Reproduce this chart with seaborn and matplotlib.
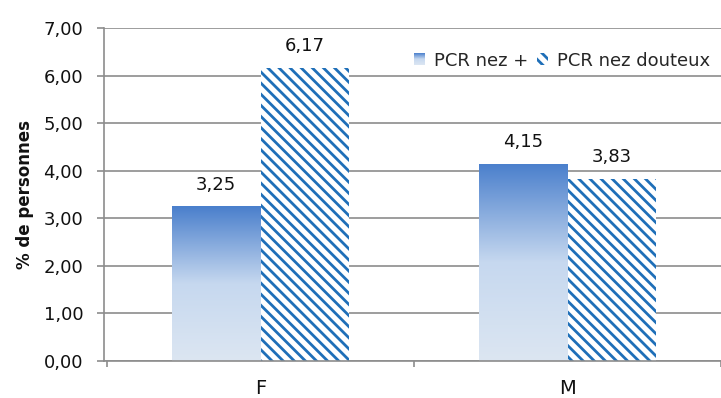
import numpy as np
import pandas as pd
import matplotlib
matplotlib.use("Agg")
import matplotlib.pyplot as plt
from matplotlib.colors import LinearSegmentedColormap
from matplotlib.patches import Rectangle
from matplotlib.legend_handler import HandlerBase
import seaborn as sns

# Data
sexes = ["F", "M"]
series = ["PCR nez +", "PCR nez douteux"]
pcr_positive = [3.25, 4.15]
pcr_doubtful = [6.17, 3.83]
y_ticks = [0, 1, 2, 3, 4, 5, 6, 7]

df = pd.DataFrame({
    "sexe": sexes * 2,
    "serie": [series[0]] * len(sexes) + [series[1]] * len(sexes),
    "valeur": pcr_positive + pcr_doubtful,
})

sns.set_theme(style="white")
plt.rcParams["font.family"] = ["DejaVu Sans"]
plt.rcParams["hatch.linewidth"] = 2.0
plt.rcParams["hatch.color"] = "#1f6fb8"

STRIPE = "#1f6fb8"
HATCH = "\\\\\\"
GRID = "#8c8c8c"
TXT = "#111111"
grad_cmap = LinearSegmentedColormap.from_list(
    "bleu", [(0.0, "#dce6f2"), (0.5, "#c6d8ef"), (1.0, "#4a7fcc")])

fig = plt.figure(figsize=(7.21, 3.98), dpi=100)
ax = fig.add_axes([0.1442, 0.093, 0.8558, 0.8365])

sns.barplot(data=df, x="sexe", y="valeur", hue="serie", order=sexes,
            hue_order=series, width=0.577, ax=ax, legend=False,
            palette=["#7ea6dc", "white"], saturation=1, errorbar=None)

solid = ax.containers[0]
striped = ax.containers[1]

# gradient fill for the first series
gradient = np.linspace(0, 1, 256).reshape(-1, 1)
for bar in solid:
    x0, y0 = bar.get_x(), bar.get_y()
    w, h = bar.get_width(), bar.get_height()
    bar.set_facecolor("none")
    bar.set_edgecolor("none")
    im = ax.imshow(gradient, cmap=grad_cmap, origin="lower", aspect="auto",
                   extent=[x0, x0 + w, y0, y0 + h], zorder=bar.get_zorder())
    im.set_clip_path(bar)

# diagonal stripes for the second series
for bar in striped:
    bar.set_facecolor("white")
    bar.set_edgecolor(STRIPE)
    bar.set_linewidth(0)
    bar.set_hatch(HATCH)

# value labels
for cont, vals in ((solid, pcr_positive), (striped, pcr_doubtful)):
    for bar, v in zip(cont, vals):
        ax.annotate(f"{v:.2f}".replace(".", ","),
                    (bar.get_x() + bar.get_width() / 2, bar.get_height()),
                    xytext=(0, 9), textcoords="offset points",
                    ha="center", va="bottom", fontsize=13, color=TXT)

ax.set_xlim(-0.51, 1.468)
ax.set_ylim(0, 7)
ax.set_yticks(y_ticks)
ax.set_yticklabels([f"{t:.2f}".replace(".", ",") for t in y_ticks],
                   fontsize=13, color=TXT)
ax.yaxis.grid(True, color=GRID, linewidth=1.2)
ax.set_axisbelow(True)

ax.set_xticks(range(len(sexes)))
ax.set_xticklabels(sexes, fontsize=14, color=TXT)
ax.set_xticks([-0.5, 0.5, 1.5], minor=True)
ax.tick_params(axis="x", which="major", length=0, pad=13)
ax.tick_params(axis="x", which="minor", length=4.5, width=1.2, color=GRID,
               direction="out", bottom=True)
ax.tick_params(axis="y", length=5, width=1.2, color=GRID, direction="out",
               left=True, pad=10)

ax.set_xlabel("")
ax.set_ylabel("% de personnes", fontsize=12, fontweight="bold",
              color=TXT, labelpad=7)

for side in ("top", "right"):
    ax.spines[side].set_visible(False)
for side in ("left", "bottom"):
    ax.spines[side].set_color(GRID)
    ax.spines[side].set_linewidth(1.2)


class GradientHandler(HandlerBase):
    def create_artists(self, legend, orig_handle, xdescent, ydescent,
                       width, height, fontsize, trans):
        n = 12
        artists = []
        for i in range(n):
            c = grad_cmap((i + 0.5) / n)
            r = Rectangle((-xdescent, -ydescent + height * i / n), width,
                          height / n + 0.05, facecolor=c, edgecolor="none",
                          transform=trans)
            artists.append(r)
        return artists


grad_handle = Rectangle((0, 0), 1, 1)
stripe_handle = Rectangle((0, 0), 1, 1, facecolor="white", edgecolor=STRIPE,
                          linewidth=0, hatch=HATCH)
ax.legend([grad_handle, stripe_handle], series,
          handler_map={grad_handle: GradientHandler()},
          loc="upper right", bbox_to_anchor=(1.0, 0.962), ncol=2,
          frameon=False, fontsize=13, handlelength=0.6, handleheight=0.6,
          handletextpad=0.5, columnspacing=0.5, borderaxespad=0.2)

fig.savefig("out.png", dpi=100)
